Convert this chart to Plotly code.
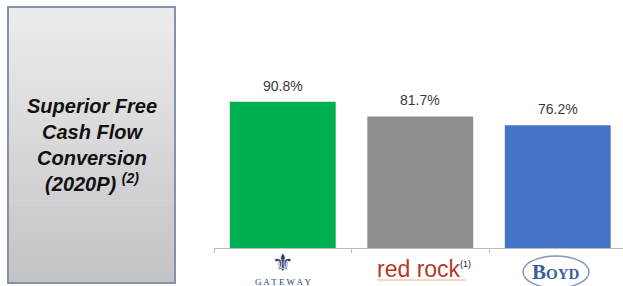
import plotly.graph_objects as go

categories = ["Gateway", "Red Rock", "Boyd"]
values = [90.8, 81.7, 76.2]
value_labels = ["90.8%", "81.7%", "76.2%"]
bar_colors = ["#00b050", "#8e8e8e", "#4472c4"]

W, H = 623, 286

def px(x):
    return x / W

def py(y):
    return 1 - y / H

fig = go.Figure()
fig.add_trace(go.Bar(
    x=categories, y=values, marker=dict(color=bar_colors, line=dict(width=0)),
    width=0.77, hoverinfo="skip", showlegend=False,
))

anns = []
for c, v, t in zip(categories, values, value_labels):
    anns.append(dict(x=c, y=v, xref="x", yref="y", text=t, showarrow=False,
                     yanchor="bottom", yshift=6,
                     font=dict(family="Liberation Sans, Arial", size=14, color="#3a3a3a")))

shapes = []
# left gradient panel
x0, x1, y0, y1 = 8, 175, 7, 283
n = 40
top = (0xec, 0xec, 0xec)
bot = (0xc4, 0xc4, 0xc6)
for i in range(n):
    f = i / (n - 1)
    col = "rgb(%d,%d,%d)" % tuple(round(top[k] + (bot[k] - top[k]) * f) for k in range(3))
    ya = y0 + (y1 - y0) * i / n
    yb = y0 + (y1 - y0) * (i + 1) / n + 0.6
    shapes.append(dict(type="rect", xref="paper", yref="paper",
                       x0=px(x0), x1=px(x1), y0=py(yb), y1=py(ya),
                       fillcolor=col, line=dict(width=0), layer="below"))
shapes.append(dict(type="rect", xref="paper", yref="paper",
                   x0=px(x0), x1=px(x1), y0=py(y1), y1=py(y0),
                   fillcolor="rgba(0,0,0,0)", line=dict(color="#8294ad", width=2)))
# red rock underline
shapes.append(dict(type="line", xref="paper", yref="paper",
                   x0=px(377), x1=px(466), y0=py(280), y1=py(280),
                   line=dict(color="#eab48e", width=1)))
# Boyd ellipse
shapes.append(dict(type="circle", xref="paper", yref="paper",
                   x0=px(523), x1=px(589), y0=py(288), y1=py(256),
                   line=dict(color="#7f97c0", width=1.5)))

anns += [
    dict(x=px(91.5), y=py(145), xref="paper", yref="paper", showarrow=False,
         text="<b><i>Superior Free<br>Cash Flow<br>Conversion<br>(2020P) <sup>(2)</sup></i></b>",
         font=dict(family="Liberation Sans, Arial", size=20, color="#111111"),
         align="center", xanchor="center", yanchor="middle"),
    dict(x=px(283), y=py(263), xref="paper", yref="paper", showarrow=False,
         text="⚜", font=dict(family="DejaVu Sans", size=24, color="#2b3c6e"),
         xanchor="center", yanchor="middle"),
    dict(x=px(283), y=py(282), xref="paper", yref="paper", showarrow=False,
         text="G A T E W A Y", font=dict(family="Liberation Serif", size=9, color="#2b3c6e"),
         xanchor="center", yanchor="middle"),
    dict(x=px(424), y=py(269), xref="paper", yref="paper", showarrow=False,
         text="<span style='color:#b3392b'>red rock</span><sup><span style='font-size:9px'>(1)</span></sup>",
         font=dict(family="Liberation Sans, Arial", size=23, color="#222222"),
         xanchor="center", yanchor="middle"),
    dict(x=px(556), y=py(272), xref="paper", yref="paper", showarrow=False,
         text="<b>B<span style='font-size:15px'>OYD</span></b>",
         font=dict(family="Liberation Serif", size=21, color="#3a5f9c"),
         xanchor="center", yanchor="middle"),
]

ax_left = 214
fig.update_layout(
    width=W, height=H,
    margin=dict(l=0, r=0, t=0, b=0),
    paper_bgcolor="white", plot_bgcolor="white",
    shapes=shapes, annotations=anns,
    xaxis=dict(domain=[px(ax_left), 1],
               range=[-0.5, -0.5 + (W - ax_left) / 137.5], showticklabels=False,
               showline=True, linecolor="#bdbdbd", linewidth=1,
               ticks="outside", tickson="boundaries", ticklen=4, tickcolor="#bdbdbd",
               showgrid=False, zeroline=False, fixedrange=True),
    yaxis=dict(domain=[py(248), py(87)], range=[0, 100], visible=False,
               showgrid=False, zeroline=False, fixedrange=True),
)

fig.write_html("out.html", config={"displayModeBar": False},
               post_script="document.body.style.margin='0';")
